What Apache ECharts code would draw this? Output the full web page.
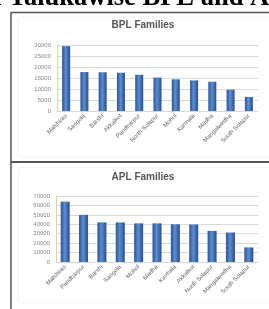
<!DOCTYPE html>
<html>
<head>
<meta charset="utf-8">
<script src="https://cdn.jsdelivr.net/npm/echarts@6/dist/echarts.min.js"></script>
<style>
html,body{margin:0;padding:0;background:#fff;}
#c{width:269px;height:309px;}
</style>
</head>
<body>
<div id="c"></div>
<script>
const headerText = 'of Talukawise BPL and APL Families';
const titleBPL = 'BPL Families';
const titleAPL = 'APL Families';
const categoriesBPL = ['Malshiras','Sangola','Barshi','Akkalkot','Pandharpur','North Solapur','Mohol','Karmala','Madha','Mangalwedha','South Solapur'];
const valuesBPL = [29500,17700,17600,17400,16500,15200,14400,13900,13300,9700,6400];
const categoriesAPL = ['Malshiras','Pandharpur','Barshi','Sangola','Mohol','Madha','Karmala','Akkalkot','North Solapur','Mangalwedha','South Solapur'];
const valuesAPL = [64000,50000,42000,42000,41000,41000,40000,39800,33000,31300,15500];
const yMaxBPL = 30000, yStepBPL = 5000;
const yMaxAPL = 70000, yStepAPL = 10000;

const chart = echarts.init(document.getElementById('c'), null, {renderer:'canvas'});

const barColor = {
  type:'linear', x:0, y:0, x2:1, y2:0,
  colorStops:[{offset:0,color:'#2b5294'},{offset:0.45,color:'#5b8ed3'},{offset:1,color:'#284c8a'}]
};

function xAxis(gridIndex, cats){
  return {
    type:'category', gridIndex, data:cats,
    axisLine:{show:true, lineStyle:{color:'#d6d6d6', width:1}},
    axisTick:{show:false},
    axisLabel:{rotate:45, fontSize:6, color:'#666', margin:4, interval:0, fontFamily:'Liberation Sans'}
  };
}
function yAxis(gridIndex, max, step){
  return {
    type:'value', gridIndex, min:0, max, interval:step,
    axisLine:{show:true, lineStyle:{color:'#cfdcaa', width:1}},
    axisTick:{show:false},
    splitLine:{show:true, lineStyle:{color:'#d9d9d9', width:1}},
    axisLabel:{fontSize:6, color:'#888', margin:6, fontFamily:'Liberation Sans', formatter:(v)=>String(v)}
  };
}

chart.setOption({
  animation:false,
  backgroundColor:'#fff',
  grid:[
    {left:57, right:11, top:45, height:66},
    {left:56, right:11, top:196, height:66}
  ],
  xAxis:[xAxis(0, categoriesBPL), xAxis(1, categoriesAPL)],
  yAxis:[yAxis(0, yMaxBPL, yStepBPL), yAxis(1, yMaxAPL, yStepAPL)],
  series:[
    {type:'bar', xAxisIndex:0, yAxisIndex:0, data:valuesBPL, barWidth:8, itemStyle:{color:barColor}},
    {type:'bar', xAxisIndex:1, yAxisIndex:1, data:valuesAPL, barWidth:9, itemStyle:{color:barColor}}
  ],
  graphic:[
    {type:'text', x:-20, y:-2, z:10, style:{text:headerText, font:'bold 26.5px "Liberation Serif"', fill:'#000', align:'left', verticalAlign:'middle'}},
    {type:'rect', shape:{x:18, y:17, width:270, height:140, r:4}, style:{fill:'none', stroke:'#f3f3f3', lineWidth:1}},
    {type:'rect', shape:{x:18, y:167, width:270, height:136, r:4}, style:{fill:'none', stroke:'#f3f3f3', lineWidth:1}},
    {type:'line', shape:{x1:11, y1:12.5, x2:269, y2:12.5}, style:{stroke:'#555', lineWidth:1.5}},
    {type:'line', shape:{x1:11, y1:12, x2:11, y2:309}, style:{stroke:'#555', lineWidth:1.5}},
    {type:'line', shape:{x1:11, y1:162, x2:269, y2:162}, style:{stroke:'#555', lineWidth:2}},
    {type:'text', x:143, y:25, style:{text:titleBPL, font:'bold 10px "Liberation Sans"', fill:'#555', align:'center', verticalAlign:'middle'}},
    {type:'text', x:143, y:177, style:{text:titleAPL, font:'bold 10px "Liberation Sans"', fill:'#555', align:'center', verticalAlign:'middle'}}
  ]
});
</script>
</body>
</html>
